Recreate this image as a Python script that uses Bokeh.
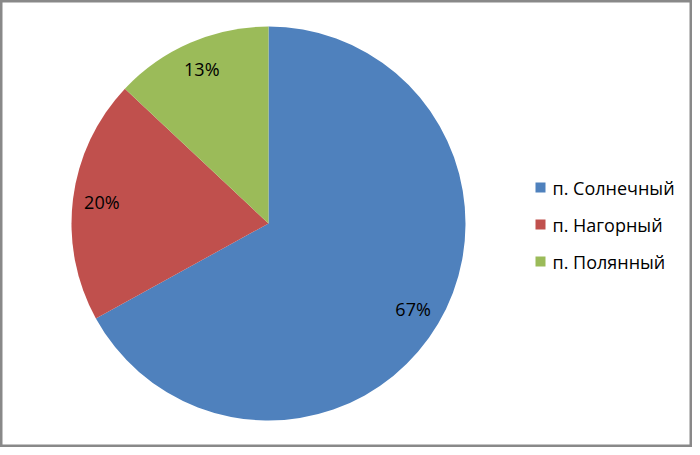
import math
from bokeh.plotting import figure
from bokeh.models import Range1d, ColumnDataSource
from bokeh.core.properties import value
from bokeh.embed import file_html
from bokeh.resources import INLINE

categories = ["п. Солнечный", "п. Нагорный", "п. Полянный"]
shares = [67, 20, 13]
labels = ["67%", "20%", "13%"]
colors = ["#4F81BD", "#C0504D", "#9BBB59"]

W, H = 692, 447
p = figure(width=W, height=H, output_backend="svg", toolbar_location=None,
           x_range=Range1d(0, W), y_range=Range1d(0, H), min_border=0)
p.axis.visible = False
p.grid.visible = False
p.outline_line_color = "#898989"
p.outline_line_width = 4
p.background_fill_color = "white"
p.border_fill_color = "white"

cx, cy, r = 268, 224, 197
total = sum(shares)
starts, ends, lx, ly = [], [], [], []
cum = 0.0
for s in shares:
    a0 = math.pi / 2 - 2 * math.pi * cum / total
    cum += s
    a1 = math.pi / 2 - 2 * math.pi * cum / total
    starts.append(a1)
    ends.append(a0)
    mid = (a0 + a1) / 2
    lx.append(cx + 168 * math.cos(mid))
    ly.append(cy + 168 * math.sin(mid))

src = ColumnDataSource(dict(start=starts, end=ends, color=colors, lx=lx, ly=ly, label=labels))
p.wedge(x=cx, y=cy, radius=r, start_angle="start", end_angle="end",
        fill_color="color", line_color=None, source=src)
p.text(x="lx", y="ly", text="label", source=src, text_align="center",
       text_baseline="middle", text_font=value("Open Sans"), text_font_size="18px",
       text_color="#000000")

# legend
leg_y = [260, 223, 186]
p.rect(x=[540] * 3, y=leg_y, width=10, height=10, fill_color=colors, line_color=None)
p.text(x=[552] * 3, y=leg_y, text=categories, text_align="left", text_baseline="middle",
       text_font=value("Open Sans"), text_font_size="18px", text_color="#000000")

open("out.html", "w").write(file_html(p, INLINE))
